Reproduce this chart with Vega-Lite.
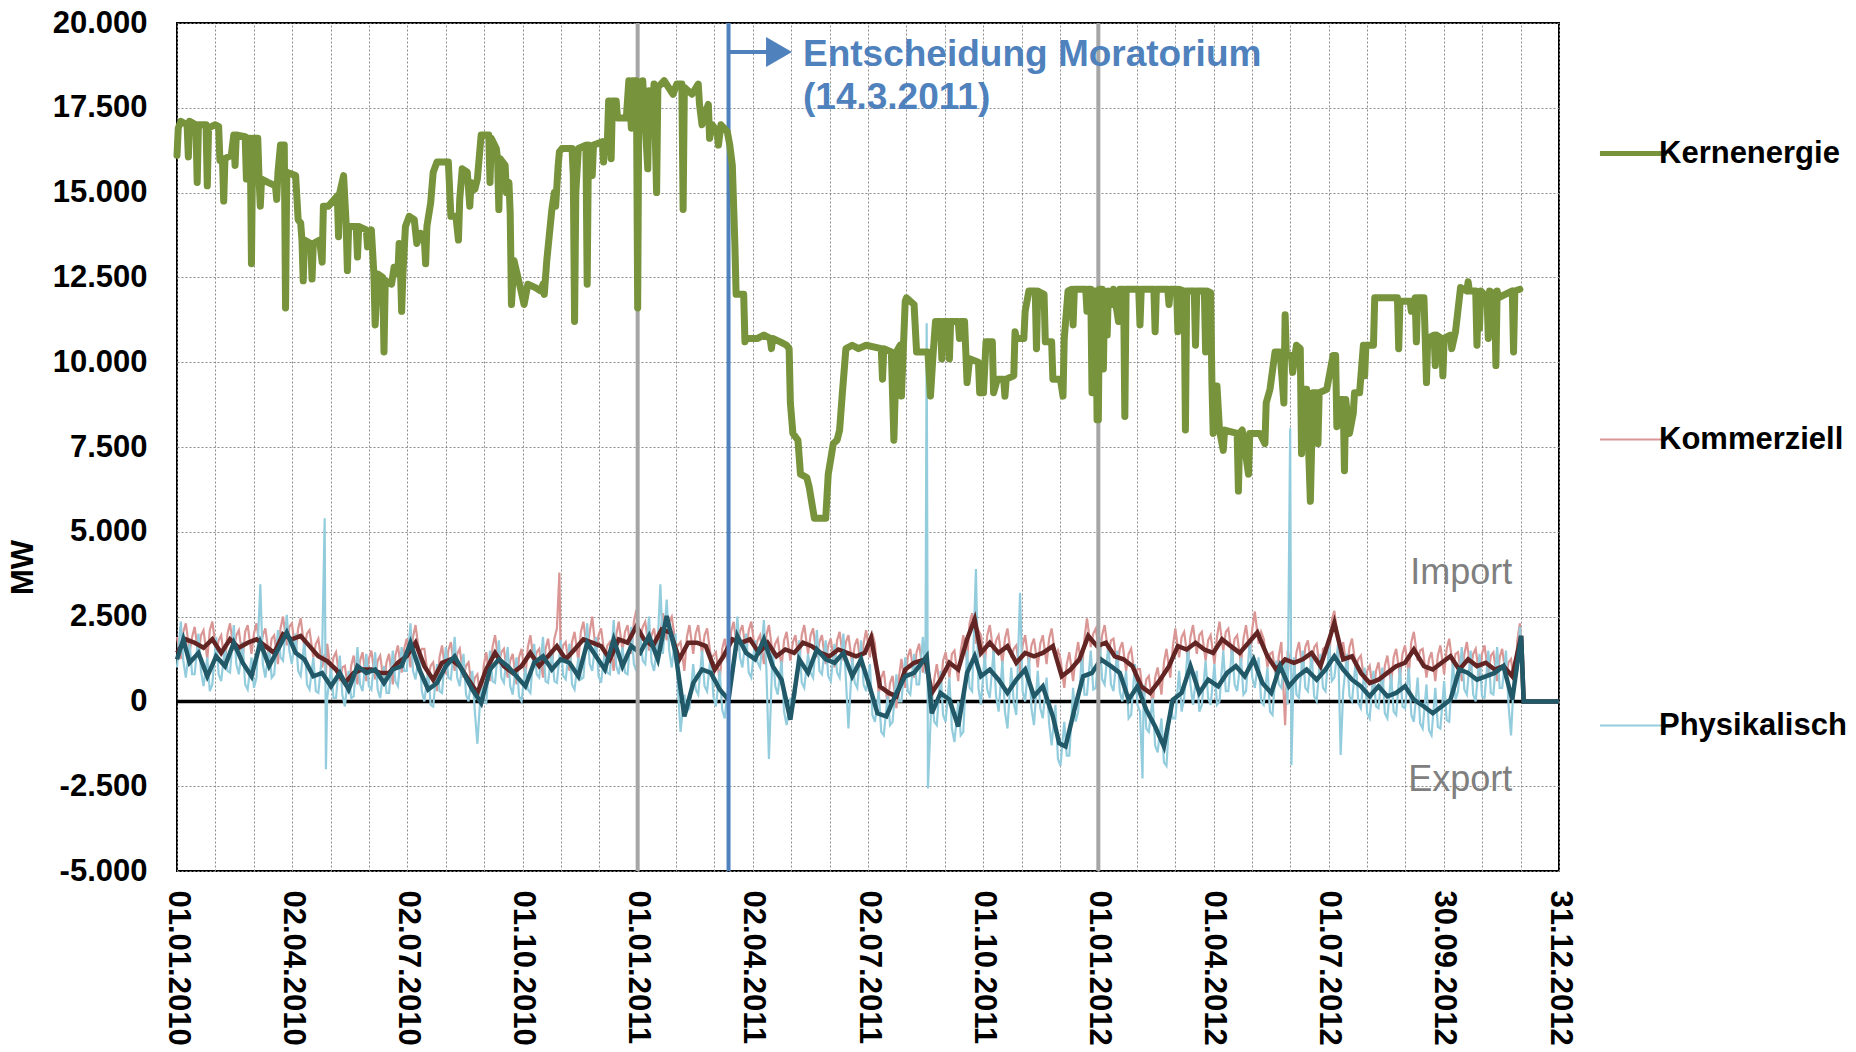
{
"$schema":"https://vega.github.io/schema/vega-lite/v6.json",
"autosize":{"type":"none"},
"width":1382,"height":848,
"padding":{"left":177,"top":23,"right":297,"bottom":181},
"background":"white",
"config":{"font":"Liberation Sans","view":{"stroke":"black","strokeWidth":2}},
"datasets":{
"kern":[
{"d":"2010-01-01","Kernenergie":16100},{"d":"2010-01-02","Kernenergie":16900},{"d":"2010-01-04","Kernenergie":17100},{"d":"2010-01-09","Kernenergie":17000},{"d":"2010-01-10","Kernenergie":16050},{"d":"2010-01-11","Kernenergie":17100},{"d":"2010-01-16","Kernenergie":17000},{"d":"2010-01-17","Kernenergie":15300},{"d":"2010-01-18","Kernenergie":17000},{"d":"2010-01-24","Kernenergie":17000},{"d":"2010-01-25","Kernenergie":15200},{"d":"2010-01-26","Kernenergie":16900},{"d":"2010-01-31","Kernenergie":17000},{"d":"2010-02-03","Kernenergie":16950},{"d":"2010-02-04","Kernenergie":15950},{"d":"2010-02-06","Kernenergie":16000},{"d":"2010-02-07","Kernenergie":14750},{"d":"2010-02-08","Kernenergie":16000},{"d":"2010-02-13","Kernenergie":16100},{"d":"2010-02-15","Kernenergie":16700},{"d":"2010-02-16","Kernenergie":15800},{"d":"2010-02-17","Kernenergie":16700},{"d":"2010-02-24","Kernenergie":16650},{"d":"2010-02-25","Kernenergie":15400},{"d":"2010-02-26","Kernenergie":16600},{"d":"2010-02-28","Kernenergie":16600},{"d":"2010-03-01","Kernenergie":12900},{"d":"2010-03-02","Kernenergie":16600},{"d":"2010-03-06","Kernenergie":16600},{"d":"2010-03-07","Kernenergie":15400},{"d":"2010-03-08","Kernenergie":14600},{"d":"2010-03-09","Kernenergie":15400},{"d":"2010-03-14","Kernenergie":15300},{"d":"2010-03-20","Kernenergie":15200},{"d":"2010-03-21","Kernenergie":14800},{"d":"2010-03-22","Kernenergie":15600},{"d":"2010-03-24","Kernenergie":16400},{"d":"2010-03-27","Kernenergie":16400},{"d":"2010-03-28","Kernenergie":11600},{"d":"2010-03-29","Kernenergie":15600},{"d":"2010-04-05","Kernenergie":15500},{"d":"2010-04-07","Kernenergie":14200},{"d":"2010-04-09","Kernenergie":14100},{"d":"2010-04-10","Kernenergie":13600},{"d":"2010-04-11","Kernenergie":12400},{"d":"2010-04-12","Kernenergie":13600},{"d":"2010-04-17","Kernenergie":13500},{"d":"2010-04-18","Kernenergie":12450},{"d":"2010-04-19","Kernenergie":13500},{"d":"2010-04-24","Kernenergie":13600},{"d":"2010-04-26","Kernenergie":12950},{"d":"2010-04-27","Kernenergie":14600},{"d":"2010-05-01","Kernenergie":14600},{"d":"2010-05-08","Kernenergie":14900},{"d":"2010-05-09","Kernenergie":13700},{"d":"2010-05-10","Kernenergie":15000},{"d":"2010-05-13","Kernenergie":15500},{"d":"2010-05-15","Kernenergie":14100},{"d":"2010-05-16","Kernenergie":12700},{"d":"2010-05-17","Kernenergie":14000},{"d":"2010-05-23","Kernenergie":14000},{"d":"2010-05-24","Kernenergie":13100},{"d":"2010-05-25","Kernenergie":14000},{"d":"2010-05-31","Kernenergie":13900},{"d":"2010-06-01","Kernenergie":13400},{"d":"2010-06-04","Kernenergie":13900},{"d":"2010-06-06","Kernenergie":12600},{"d":"2010-06-07","Kernenergie":11100},{"d":"2010-06-09","Kernenergie":12600},{"d":"2010-06-13","Kernenergie":12500},{"d":"2010-06-14","Kernenergie":10300},{"d":"2010-06-15","Kernenergie":12400},{"d":"2010-06-20","Kernenergie":12300},{"d":"2010-06-22","Kernenergie":12800},{"d":"2010-06-25","Kernenergie":12600},{"d":"2010-06-26","Kernenergie":13500},{"d":"2010-06-27","Kernenergie":12800},{"d":"2010-06-28","Kernenergie":11500},{"d":"2010-06-29","Kernenergie":12600},{"d":"2010-07-01","Kernenergie":14000},{"d":"2010-07-04","Kernenergie":14300},{"d":"2010-07-08","Kernenergie":14200},{"d":"2010-07-10","Kernenergie":13500},{"d":"2010-07-13","Kernenergie":13800},{"d":"2010-07-16","Kernenergie":13600},{"d":"2010-07-17","Kernenergie":12900},{"d":"2010-07-18","Kernenergie":14000},{"d":"2010-07-21","Kernenergie":14700},{"d":"2010-07-23","Kernenergie":15600},{"d":"2010-07-26","Kernenergie":15900},{"d":"2010-08-04","Kernenergie":15900},{"d":"2010-08-06","Kernenergie":14300},{"d":"2010-08-10","Kernenergie":14300},{"d":"2010-08-12","Kernenergie":13600},{"d":"2010-08-13","Kernenergie":14800},{"d":"2010-08-15","Kernenergie":15700},{"d":"2010-08-19","Kernenergie":15600},{"d":"2010-08-21","Kernenergie":14600},{"d":"2010-08-22","Kernenergie":15300},{"d":"2010-08-25","Kernenergie":15100},{"d":"2010-08-27","Kernenergie":15400},{"d":"2010-08-30","Kernenergie":16700},{"d":"2010-09-05","Kernenergie":16700},{"d":"2010-09-06","Kernenergie":15300},{"d":"2010-09-07","Kernenergie":16600},{"d":"2010-09-11","Kernenergie":16300},{"d":"2010-09-12","Kernenergie":16000},{"d":"2010-09-13","Kernenergie":14500},{"d":"2010-09-14","Kernenergie":16000},{"d":"2010-09-18","Kernenergie":15800},{"d":"2010-09-19","Kernenergie":15000},{"d":"2010-09-21","Kernenergie":15300},{"d":"2010-09-22","Kernenergie":14400},{"d":"2010-09-23","Kernenergie":11700},{"d":"2010-09-25","Kernenergie":13000},{"d":"2010-09-30","Kernenergie":12200},{"d":"2010-10-03","Kernenergie":11700},{"d":"2010-10-06","Kernenergie":12300},{"d":"2010-10-12","Kernenergie":12200},{"d":"2010-10-16","Kernenergie":12100},{"d":"2010-10-18","Kernenergie":12300},{"d":"2010-10-19","Kernenergie":12000},{"d":"2010-10-21","Kernenergie":13000},{"d":"2010-10-25","Kernenergie":14500},{"d":"2010-10-27","Kernenergie":15000},{"d":"2010-10-28","Kernenergie":14600},{"d":"2010-10-30","Kernenergie":15800},{"d":"2010-10-31","Kernenergie":16200},{"d":"2010-11-02","Kernenergie":16300},{"d":"2010-11-10","Kernenergie":16300},{"d":"2010-11-11","Kernenergie":15500},{"d":"2010-11-12","Kernenergie":11200},{"d":"2010-11-13","Kernenergie":15000},{"d":"2010-11-15","Kernenergie":16300},{"d":"2010-11-21","Kernenergie":16400},{"d":"2010-11-22","Kernenergie":12300},{"d":"2010-11-23","Kernenergie":16400},{"d":"2010-11-26","Kernenergie":15500},{"d":"2010-11-27","Kernenergie":16400},{"d":"2010-12-04","Kernenergie":16500},{"d":"2010-12-05","Kernenergie":15900},{"d":"2010-12-06","Kernenergie":16500},{"d":"2010-12-08","Kernenergie":16500},{"d":"2010-12-09","Kernenergie":17700},{"d":"2010-12-10","Kernenergie":17700},{"d":"2010-12-11","Kernenergie":16000},{"d":"2010-12-12","Kernenergie":17700},{"d":"2010-12-15","Kernenergie":17700},{"d":"2010-12-16","Kernenergie":17200},{"d":"2010-12-23","Kernenergie":17200},{"d":"2010-12-25","Kernenergie":18300},{"d":"2010-12-27","Kernenergie":16900},{"d":"2010-12-28","Kernenergie":18300},{"d":"2010-12-31","Kernenergie":18300},
{"d":"2011-01-01","Kernenergie":11600},{"d":"2011-01-02","Kernenergie":18200},{"d":"2011-01-04","Kernenergie":17000},{"d":"2011-01-05","Kernenergie":18300},{"d":"2011-01-09","Kernenergie":15700},{"d":"2011-01-10","Kernenergie":18000},{"d":"2011-01-12","Kernenergie":17000},{"d":"2011-01-14","Kernenergie":18200},{"d":"2011-01-16","Kernenergie":15000},{"d":"2011-01-17","Kernenergie":18100},{"d":"2011-01-22","Kernenergie":18300},{"d":"2011-01-29","Kernenergie":17900},{"d":"2011-02-01","Kernenergie":18200},{"d":"2011-02-05","Kernenergie":18200},{"d":"2011-02-06","Kernenergie":14500},{"d":"2011-02-07","Kernenergie":18100},{"d":"2011-02-13","Kernenergie":17900},{"d":"2011-02-18","Kernenergie":18200},{"d":"2011-02-19","Kernenergie":17600},{"d":"2011-02-21","Kernenergie":17000},{"d":"2011-02-23","Kernenergie":17300},{"d":"2011-02-26","Kernenergie":17600},{"d":"2011-02-27","Kernenergie":16600},{"d":"2011-03-01","Kernenergie":17000},{"d":"2011-03-05","Kernenergie":16800},{"d":"2011-03-06","Kernenergie":16400},{"d":"2011-03-08","Kernenergie":17000},{"d":"2011-03-13","Kernenergie":16800},{"d":"2011-03-15","Kernenergie":16400},{"d":"2011-03-17","Kernenergie":15800},{"d":"2011-03-19","Kernenergie":13500},{"d":"2011-03-20","Kernenergie":12000},{"d":"2011-03-26","Kernenergie":12000},{"d":"2011-03-27","Kernenergie":10600},{"d":"2011-03-28","Kernenergie":10700},{"d":"2011-04-06","Kernenergie":10700},{"d":"2011-04-11","Kernenergie":10800},{"d":"2011-04-16","Kernenergie":10700},{"d":"2011-04-17","Kernenergie":10400},{"d":"2011-04-18","Kernenergie":10700},{"d":"2011-04-24","Kernenergie":10600},{"d":"2011-04-29","Kernenergie":10500},{"d":"2011-05-01","Kernenergie":10400},{"d":"2011-05-02","Kernenergie":8800},{"d":"2011-05-04","Kernenergie":7900},{"d":"2011-05-08","Kernenergie":7700},{"d":"2011-05-10","Kernenergie":6700},{"d":"2011-05-15","Kernenergie":6600},{"d":"2011-05-17","Kernenergie":6300},{"d":"2011-05-21","Kernenergie":5400},{"d":"2011-05-30","Kernenergie":5400},{"d":"2011-06-01","Kernenergie":6700},{"d":"2011-06-05","Kernenergie":7600},{"d":"2011-06-08","Kernenergie":7700},{"d":"2011-06-10","Kernenergie":8000},{"d":"2011-06-12","Kernenergie":9000},{"d":"2011-06-15","Kernenergie":10400},{"d":"2011-06-20","Kernenergie":10500},{"d":"2011-06-25","Kernenergie":10400},{"d":"2011-07-01","Kernenergie":10500},{"d":"2011-07-13","Kernenergie":10400},{"d":"2011-07-14","Kernenergie":9500},{"d":"2011-07-15","Kernenergie":10400},{"d":"2011-07-21","Kernenergie":10300},{"d":"2011-07-23","Kernenergie":7700},{"d":"2011-07-25","Kernenergie":10300},{"d":"2011-07-28","Kernenergie":10500},{"d":"2011-07-29","Kernenergie":9000},{"d":"2011-08-01","Kernenergie":11800},{"d":"2011-08-02","Kernenergie":11900},{"d":"2011-08-08","Kernenergie":11700},{"d":"2011-08-10","Kernenergie":10300},{"d":"2011-08-19","Kernenergie":10300},{"d":"2011-08-21","Kernenergie":9000},{"d":"2011-08-23","Kernenergie":10200},{"d":"2011-08-25","Kernenergie":11200},{"d":"2011-08-29","Kernenergie":11200},{"d":"2011-08-30","Kernenergie":10100},{"d":"2011-08-31","Kernenergie":11200},{"d":"2011-09-04","Kernenergie":11200},{"d":"2011-09-05","Kernenergie":10100},{"d":"2011-09-06","Kernenergie":11200},{"d":"2011-09-12","Kernenergie":11200},{"d":"2011-09-13","Kernenergie":10700},{"d":"2011-09-14","Kernenergie":11200},{"d":"2011-09-17","Kernenergie":11200},{"d":"2011-09-19","Kernenergie":9400},{"d":"2011-09-21","Kernenergie":10100},{"d":"2011-09-28","Kernenergie":10000},{"d":"2011-09-29","Kernenergie":9100},{"d":"2011-10-02","Kernenergie":9100},{"d":"2011-10-04","Kernenergie":10600},{"d":"2011-10-09","Kernenergie":10600},{"d":"2011-10-10","Kernenergie":9100},{"d":"2011-10-13","Kernenergie":9500},{"d":"2011-10-18","Kernenergie":9500},{"d":"2011-10-19","Kernenergie":9000},{"d":"2011-10-20","Kernenergie":9500},{"d":"2011-10-26","Kernenergie":9600},{"d":"2011-10-27","Kernenergie":10900},{"d":"2011-10-28","Kernenergie":10700},{"d":"2011-11-03","Kernenergie":10700},{"d":"2011-11-04","Kernenergie":11500},{"d":"2011-11-07","Kernenergie":12100},{"d":"2011-11-12","Kernenergie":12100},{"d":"2011-11-13","Kernenergie":10400},{"d":"2011-11-14","Kernenergie":12100},{"d":"2011-11-19","Kernenergie":12000},{"d":"2011-11-20","Kernenergie":10600},{"d":"2011-11-25","Kernenergie":10600},{"d":"2011-11-26","Kernenergie":9500},{"d":"2011-12-02","Kernenergie":9500},{"d":"2011-12-04","Kernenergie":9000},{"d":"2011-12-05","Kernenergie":10700},{"d":"2011-12-08","Kernenergie":12100},{"d":"2011-12-11","Kernenergie":12150},{"d":"2011-12-12","Kernenergie":11100},{"d":"2011-12-13","Kernenergie":12150},{"d":"2011-12-22","Kernenergie":12150},{"d":"2011-12-23","Kernenergie":11500},{"d":"2011-12-24","Kernenergie":12150},{"d":"2011-12-26","Kernenergie":12150},{"d":"2011-12-27","Kernenergie":9100},{"d":"2011-12-28","Kernenergie":12100},{"d":"2011-12-30","Kernenergie":12100},{"d":"2011-12-31","Kernenergie":8300},
{"d":"2012-01-01","Kernenergie":8300},{"d":"2012-01-02","Kernenergie":12150},{"d":"2012-01-04","Kernenergie":12150},{"d":"2012-01-05","Kernenergie":9800},{"d":"2012-01-06","Kernenergie":12100},{"d":"2012-01-08","Kernenergie":10800},{"d":"2012-01-09","Kernenergie":12100},{"d":"2012-01-12","Kernenergie":11700},{"d":"2012-01-13","Kernenergie":12150},{"d":"2012-01-17","Kernenergie":11200},{"d":"2012-01-18","Kernenergie":12150},{"d":"2012-01-21","Kernenergie":12150},{"d":"2012-01-22","Kernenergie":8400},{"d":"2012-01-23","Kernenergie":12150},{"d":"2012-02-02","Kernenergie":12150},{"d":"2012-02-03","Kernenergie":11100},{"d":"2012-02-04","Kernenergie":12150},{"d":"2012-02-14","Kernenergie":12150},{"d":"2012-02-15","Kernenergie":10900},{"d":"2012-02-16","Kernenergie":12150},{"d":"2012-02-25","Kernenergie":12150},{"d":"2012-02-26","Kernenergie":11700},{"d":"2012-02-27","Kernenergie":12150},{"d":"2012-03-03","Kernenergie":12150},{"d":"2012-03-04","Kernenergie":10900},{"d":"2012-03-05","Kernenergie":12150},{"d":"2012-03-09","Kernenergie":12100},{"d":"2012-03-10","Kernenergie":8000},{"d":"2012-03-11","Kernenergie":12100},{"d":"2012-03-17","Kernenergie":12100},{"d":"2012-03-18","Kernenergie":10500},{"d":"2012-03-19","Kernenergie":12100},{"d":"2012-03-25","Kernenergie":12100},{"d":"2012-03-26","Kernenergie":10300},{"d":"2012-03-27","Kernenergie":12100},{"d":"2012-03-30","Kernenergie":12050},{"d":"2012-03-31","Kernenergie":9400},{"d":"2012-04-01","Kernenergie":7900},{"d":"2012-04-03","Kernenergie":9300},{"d":"2012-04-04","Kernenergie":9300},{"d":"2012-04-06","Kernenergie":8000},{"d":"2012-04-09","Kernenergie":7400},{"d":"2012-04-10","Kernenergie":8000},{"d":"2012-04-20","Kernenergie":7900},{"d":"2012-04-21","Kernenergie":6200},{"d":"2012-04-22","Kernenergie":7900},{"d":"2012-04-24","Kernenergie":8000},{"d":"2012-04-29","Kernenergie":6700},{"d":"2012-04-30","Kernenergie":7900},{"d":"2012-05-08","Kernenergie":7900},{"d":"2012-05-12","Kernenergie":7600},{"d":"2012-05-13","Kernenergie":8800},{"d":"2012-05-16","Kernenergie":9200},{"d":"2012-05-20","Kernenergie":10300},{"d":"2012-05-24","Kernenergie":10300},{"d":"2012-05-27","Kernenergie":8800},{"d":"2012-05-28","Kernenergie":11400},{"d":"2012-05-29","Kernenergie":10200},{"d":"2012-06-02","Kernenergie":10200},{"d":"2012-06-03","Kernenergie":9700},{"d":"2012-06-06","Kernenergie":10500},{"d":"2012-06-09","Kernenergie":10400},{"d":"2012-06-10","Kernenergie":7300},{"d":"2012-06-11","Kernenergie":9200},{"d":"2012-06-14","Kernenergie":9200},{"d":"2012-06-17","Kernenergie":5900},{"d":"2012-06-19","Kernenergie":9100},{"d":"2012-06-22","Kernenergie":9100},{"d":"2012-06-23","Kernenergie":7600},{"d":"2012-06-24","Kernenergie":9100},{"d":"2012-06-30","Kernenergie":9200},{"d":"2012-07-05","Kernenergie":10200},{"d":"2012-07-07","Kernenergie":10200},{"d":"2012-07-08","Kernenergie":8100},{"d":"2012-07-09","Kernenergie":8900},{"d":"2012-07-13","Kernenergie":8900},{"d":"2012-07-14","Kernenergie":6800},{"d":"2012-07-15","Kernenergie":8900},{"d":"2012-07-18","Kernenergie":7900},{"d":"2012-07-21","Kernenergie":8500},{"d":"2012-07-22","Kernenergie":9100},{"d":"2012-07-26","Kernenergie":9100},{"d":"2012-07-29","Kernenergie":10500},{"d":"2012-07-30","Kernenergie":9600},{"d":"2012-07-31","Kernenergie":10500},{"d":"2012-08-06","Kernenergie":10500},{"d":"2012-08-07","Kernenergie":11900},{"d":"2012-08-25","Kernenergie":11900},{"d":"2012-08-26","Kernenergie":10400},{"d":"2012-08-27","Kernenergie":11800},{"d":"2012-09-04","Kernenergie":11800},{"d":"2012-09-05","Kernenergie":11500},{"d":"2012-09-08","Kernenergie":11900},{"d":"2012-09-09","Kernenergie":10600},{"d":"2012-09-10","Kernenergie":11900},{"d":"2012-09-15","Kernenergie":11900},{"d":"2012-09-16","Kernenergie":10700},{"d":"2012-09-17","Kernenergie":9400},{"d":"2012-09-18","Kernenergie":10700},{"d":"2012-09-23","Kernenergie":10800},{"d":"2012-09-24","Kernenergie":9900},{"d":"2012-09-25","Kernenergie":10800},{"d":"2012-09-29","Kernenergie":10700},{"d":"2012-09-30","Kernenergie":9600},{"d":"2012-10-01","Kernenergie":10700},{"d":"2012-10-06","Kernenergie":10800},{"d":"2012-10-07","Kernenergie":10400},{"d":"2012-10-10","Kernenergie":10900},{"d":"2012-10-14","Kernenergie":12200},{"d":"2012-10-19","Kernenergie":12100},{"d":"2012-10-20","Kernenergie":12370},{"d":"2012-10-21","Kernenergie":12100},{"d":"2012-10-26","Kernenergie":12100},{"d":"2012-10-27","Kernenergie":10500},{"d":"2012-10-28","Kernenergie":12000},{"d":"2012-10-29","Kernenergie":11000},{"d":"2012-10-30","Kernenergie":12100},{"d":"2012-11-04","Kernenergie":11900},{"d":"2012-11-05","Kernenergie":10700},{"d":"2012-11-06","Kernenergie":12100},{"d":"2012-11-10","Kernenergie":12000},{"d":"2012-11-11","Kernenergie":9900},{"d":"2012-11-12","Kernenergie":12100},{"d":"2012-11-13","Kernenergie":11900},{"d":"2012-11-24","Kernenergie":12100},{"d":"2012-11-25","Kernenergie":10300},{"d":"2012-11-26","Kernenergie":12100},{"d":"2012-11-30","Kernenergie":12150}],
"ex":[
{"d":"2010-01-01","Kommerziell":1900,"Physikalisch":1000},{"d":"2010-01-04","Kommerziell":1250,"Physikalisch":2350},{"d":"2010-01-08","Kommerziell":2300,"Physikalisch":700},{"d":"2010-01-11","Kommerziell":1450,"Physikalisch":1700},{"d":"2010-01-15","Kommerziell":2200,"Physikalisch":800},{"d":"2010-01-18","Kommerziell":1350,"Physikalisch":2000},{"d":"2010-01-22","Kommerziell":2100,"Physikalisch":450},{"d":"2010-01-25","Kommerziell":1250,"Physikalisch":1300},{"d":"2010-01-29","Kommerziell":2350,"Physikalisch":500},{"d":"2010-02-01","Kommerziell":1500,"Physikalisch":1900},{"d":"2010-02-05","Kommerziell":1950,"Physikalisch":600},{"d":"2010-02-08","Kommerziell":1100,"Physikalisch":1600},{"d":"2010-02-12","Kommerziell":2300,"Physikalisch":850},{"d":"2010-02-15","Kommerziell":1500,"Physikalisch":2250},{"d":"2010-02-19","Kommerziell":2100,"Physikalisch":800},{"d":"2010-02-22","Kommerziell":1250,"Physikalisch":1750},{"d":"2010-02-26","Kommerziell":2250,"Physikalisch":350},{"d":"2010-03-01","Kommerziell":1400,"Physikalisch":1300},{"d":"2010-03-05","Kommerziell":2300,"Physikalisch":700},{"d":"2010-03-08","Kommerziell":1500,"Physikalisch":3450},{"d":"2010-03-12","Kommerziell":2150,"Physikalisch":700},{"d":"2010-03-15","Kommerziell":1300,"Physikalisch":1600},{"d":"2010-03-19","Kommerziell":1950,"Physikalisch":800},{"d":"2010-03-22","Kommerziell":1100,"Physikalisch":2100},{"d":"2010-03-26","Kommerziell":2500,"Physikalisch":1200},{"d":"2010-03-29","Kommerziell":1650,"Physikalisch":2550},{"d":"2010-04-02","Kommerziell":2300,"Physikalisch":1100},{"d":"2010-04-05","Kommerziell":1450,"Physikalisch":2000},{"d":"2010-04-09","Kommerziell":2450,"Physikalisch":750},{"d":"2010-04-12","Kommerziell":1550,"Physikalisch":1800},{"d":"2010-04-16","Kommerziell":2100,"Physikalisch":350},{"d":"2010-04-19","Kommerziell":1300,"Physikalisch":1300},{"d":"2010-04-23","Kommerziell":1850,"Physikalisch":250},{"d":"2010-04-26","Kommerziell":1000,"Physikalisch":1400},{"d":"2010-04-28","Kommerziell":1400,"Physikalisch":5400},{"d":"2010-04-29","Kommerziell":800,"Physikalisch":-2000},{"d":"2010-04-30","Kommerziell":1700,"Physikalisch":100},{"d":"2010-05-03","Kommerziell":850,"Physikalisch":1000},{"d":"2010-05-07","Kommerziell":1450,"Physikalisch":100},{"d":"2010-05-10","Kommerziell":600,"Physikalisch":1350},{"d":"2010-05-14","Kommerziell":1050,"Physikalisch":-150},{"d":"2010-05-17","Kommerziell":250,"Physikalisch":900},{"d":"2010-05-21","Kommerziell":1350,"Physikalisch":150},{"d":"2010-05-24","Kommerziell":500,"Physikalisch":1600},{"d":"2010-05-28","Kommerziell":1450,"Physikalisch":300},{"d":"2010-05-31","Kommerziell":600,"Physikalisch":1400},{"d":"2010-06-04","Kommerziell":1500,"Physikalisch":350},{"d":"2010-06-07","Kommerziell":650,"Physikalisch":1450},{"d":"2010-06-11","Kommerziell":1350,"Physikalisch":100},{"d":"2010-06-14","Kommerziell":500,"Physikalisch":1050},{"d":"2010-06-18","Kommerziell":1400,"Physikalisch":250},{"d":"2010-06-21","Kommerziell":500,"Physikalisch":1500},{"d":"2010-06-25","Kommerziell":1650,"Physikalisch":450},{"d":"2010-06-28","Kommerziell":850,"Physikalisch":1600},{"d":"2010-07-02","Kommerziell":1850,"Physikalisch":900},{"d":"2010-07-05","Kommerziell":1000,"Physikalisch":2300},{"d":"2010-07-09","Kommerziell":2250,"Physikalisch":650},{"d":"2010-07-12","Kommerziell":1400,"Physikalisch":1500},{"d":"2010-07-16","Kommerziell":1550,"Physikalisch":0},{"d":"2010-07-19","Kommerziell":700,"Physikalisch":900},{"d":"2010-07-23","Kommerziell":1150,"Physikalisch":-150},{"d":"2010-07-26","Kommerziell":300,"Physikalisch":1100},{"d":"2010-07-30","Kommerziell":1650,"Physikalisch":250},{"d":"2010-08-02","Kommerziell":800,"Physikalisch":1600},{"d":"2010-08-06","Kommerziell":1750,"Physikalisch":650},{"d":"2010-08-09","Kommerziell":900,"Physikalisch":1900},{"d":"2010-08-13","Kommerziell":1550,"Physikalisch":450},{"d":"2010-08-16","Kommerziell":700,"Physikalisch":1400},{"d":"2010-08-20","Kommerziell":1150,"Physikalisch":0},{"d":"2010-08-23","Kommerziell":300,"Physikalisch":900},{"d":"2010-08-27","Kommerziell":800,"Physikalisch":-1250},{"d":"2010-08-30","Kommerziell":-100,"Physikalisch":500},{"d":"2010-09-03","Kommerziell":1450,"Physikalisch":-50},{"d":"2010-09-06","Kommerziell":600,"Physikalisch":1500},{"d":"2010-09-10","Kommerziell":1950,"Physikalisch":550},{"d":"2010-09-13","Kommerziell":1100,"Physikalisch":1800},{"d":"2010-09-17","Kommerziell":1550,"Physikalisch":550},{"d":"2010-09-20","Kommerziell":700,"Physikalisch":1600},{"d":"2010-09-24","Kommerziell":1400,"Physikalisch":200},{"d":"2010-09-27","Kommerziell":500,"Physikalisch":1300},{"d":"2010-10-01","Kommerziell":1550,"Physikalisch":0},{"d":"2010-10-04","Kommerziell":700,"Physikalisch":1000},{"d":"2010-10-08","Kommerziell":1950,"Physikalisch":250},{"d":"2010-10-11","Kommerziell":1100,"Physikalisch":1700},{"d":"2010-10-15","Kommerziell":1550,"Physikalisch":700},{"d":"2010-10-18","Kommerziell":700,"Physikalisch":1900},{"d":"2010-10-22","Kommerziell":1850,"Physikalisch":550},{"d":"2010-10-25","Kommerziell":1000,"Physikalisch":1500},{"d":"2010-10-29","Kommerziell":2150,"Physikalisch":550},{"d":"2010-10-31","Kommerziell":3800,"Physikalisch":1300},{"d":"2010-11-01","Kommerziell":1300,"Physikalisch":1800},{"d":"2010-11-05","Kommerziell":1750,"Physikalisch":650},{"d":"2010-11-08","Kommerziell":900,"Physikalisch":1700},{"d":"2010-11-12","Kommerziell":2050,"Physikalisch":350},{"d":"2010-11-15","Kommerziell":1200,"Physikalisch":1300},{"d":"2010-11-19","Kommerziell":2350,"Physikalisch":700},{"d":"2010-11-22","Kommerziell":1500,"Physikalisch":2300},{"d":"2010-11-26","Kommerziell":2500,"Physikalisch":900},{"d":"2010-11-29","Kommerziell":1400,"Physikalisch":1900},{"d":"2010-12-03","Kommerziell":2150,"Physikalisch":550},{"d":"2010-12-06","Kommerziell":1300,"Physikalisch":1500},{"d":"2010-12-10","Kommerziell":1750,"Physikalisch":800},{"d":"2010-12-13","Kommerziell":900,"Physikalisch":2400},{"d":"2010-12-17","Kommerziell":2350,"Physikalisch":800},{"d":"2010-12-20","Kommerziell":1500,"Physikalisch":1600},{"d":"2010-12-24","Kommerziell":2250,"Physikalisch":800},{"d":"2010-12-27","Kommerziell":1400,"Physikalisch":2200},{"d":"2010-12-31","Kommerziell":2700,"Physikalisch":900},
{"d":"2011-01-03","Kommerziell":1850,"Physikalisch":2000},{"d":"2011-01-07","Kommerziell":2350,"Physikalisch":1100},{"d":"2011-01-10","Kommerziell":1500,"Physikalisch":2500},{"d":"2011-01-14","Kommerziell":2150,"Physikalisch":900},{"d":"2011-01-17","Kommerziell":1300,"Physikalisch":1800},{"d":"2011-01-19","Kommerziell":2000,"Physikalisch":3450},{"d":"2011-01-21","Kommerziell":2600,"Physikalisch":1400},{"d":"2011-01-24","Kommerziell":1800,"Physikalisch":3000},{"d":"2011-01-28","Kommerziell":2500,"Physikalisch":1000},{"d":"2011-01-31","Kommerziell":1700,"Physikalisch":2000},{"d":"2011-02-04","Kommerziell":1750,"Physikalisch":-900},{"d":"2011-02-07","Kommerziell":900,"Physikalisch":200},{"d":"2011-02-11","Kommerziell":2250,"Physikalisch":-200},{"d":"2011-02-14","Kommerziell":1400,"Physikalisch":1100},{"d":"2011-02-18","Kommerziell":2250,"Physikalisch":200},{"d":"2011-02-21","Kommerziell":1400,"Physikalisch":1500},{"d":"2011-02-25","Kommerziell":2150,"Physikalisch":300},{"d":"2011-02-28","Kommerziell":1300,"Physikalisch":1400},{"d":"2011-03-04","Kommerziell":1450,"Physikalisch":-150},{"d":"2011-03-07","Kommerziell":600,"Physikalisch":900},{"d":"2011-03-11","Kommerziell":1850,"Physikalisch":-500},{"d":"2011-03-14","Kommerziell":1000,"Physikalisch":600},{"d":"2011-03-18","Kommerziell":2350,"Physikalisch":900},{"d":"2011-03-21","Kommerziell":1500,"Physikalisch":2500},{"d":"2011-03-25","Kommerziell":2250,"Physikalisch":1000},{"d":"2011-03-28","Kommerziell":1400,"Physikalisch":2000},{"d":"2011-04-01","Kommerziell":2350,"Physikalisch":700},{"d":"2011-04-04","Kommerziell":1500,"Physikalisch":1800},{"d":"2011-04-08","Kommerziell":1950,"Physikalisch":1000},{"d":"2011-04-11","Kommerziell":1100,"Physikalisch":2400},{"d":"2011-04-15","Kommerziell":2250,"Physikalisch":-1700},{"d":"2011-04-18","Kommerziell":1400,"Physikalisch":1600},{"d":"2011-04-22","Kommerziell":1850,"Physikalisch":200},{"d":"2011-04-25","Kommerziell":1000,"Physikalisch":1200},{"d":"2011-04-29","Kommerziell":2050,"Physikalisch":-700},{"d":"2011-05-02","Kommerziell":1200,"Physikalisch":100},{"d":"2011-05-06","Kommerziell":1950,"Physikalisch":200},{"d":"2011-05-09","Kommerziell":1100,"Physikalisch":1800},{"d":"2011-05-13","Kommerziell":2250,"Physikalisch":400},{"d":"2011-05-16","Kommerziell":1400,"Physikalisch":1400},{"d":"2011-05-20","Kommerziell":2150,"Physikalisch":700},{"d":"2011-05-23","Kommerziell":1300,"Physikalisch":2100},{"d":"2011-05-27","Kommerziell":1950,"Physikalisch":800},{"d":"2011-05-30","Kommerziell":1100,"Physikalisch":1800},{"d":"2011-06-03","Kommerziell":1850,"Physikalisch":600},{"d":"2011-06-06","Kommerziell":1000,"Physikalisch":1700},{"d":"2011-06-10","Kommerziell":2050,"Physikalisch":700},{"d":"2011-06-13","Kommerziell":1200,"Physikalisch":2000},{"d":"2011-06-17","Kommerziell":1950,"Physikalisch":-800},{"d":"2011-06-20","Kommerziell":1100,"Physikalisch":1300},{"d":"2011-06-24","Kommerziell":1850,"Physikalisch":400},{"d":"2011-06-27","Kommerziell":1000,"Physikalisch":1800},{"d":"2011-07-01","Kommerziell":2100,"Physikalisch":300},{"d":"2011-07-04","Kommerziell":1300,"Physikalisch":1100},{"d":"2011-07-08","Kommerziell":1700,"Physikalisch":-600},{"d":"2011-07-11","Kommerziell":200,"Physikalisch":300},{"d":"2011-07-15","Kommerziell":900,"Physikalisch":-1000},{"d":"2011-07-18","Kommerziell":-100,"Physikalisch":150},{"d":"2011-07-22","Kommerziell":750,"Physikalisch":-600},{"d":"2011-07-25","Kommerziell":-200,"Physikalisch":800},{"d":"2011-07-29","Kommerziell":1250,"Physikalisch":0},{"d":"2011-08-01","Kommerziell":400,"Physikalisch":1300},{"d":"2011-08-05","Kommerziell":1550,"Physikalisch":200},{"d":"2011-08-08","Kommerziell":700,"Physikalisch":1400},{"d":"2011-08-12","Kommerziell":1700,"Physikalisch":500},{"d":"2011-08-15","Kommerziell":850,"Physikalisch":1900},{"d":"2011-08-18","Kommerziell":1200,"Physikalisch":11150},{"d":"2011-08-19","Kommerziell":700,"Physikalisch":-2570},{"d":"2011-08-22","Kommerziell":0,"Physikalisch":300},{"d":"2011-08-26","Kommerziell":1100,"Physikalisch":-700},{"d":"2011-08-29","Kommerziell":300,"Physikalisch":900},{"d":"2011-09-02","Kommerziell":1450,"Physikalisch":-600},{"d":"2011-09-05","Kommerziell":700,"Physikalisch":700},{"d":"2011-09-09","Kommerziell":1500,"Physikalisch":-1200},{"d":"2011-09-12","Kommerziell":600,"Physikalisch":0},{"d":"2011-09-16","Kommerziell":1950,"Physikalisch":-900},{"d":"2011-09-19","Kommerziell":1200,"Physikalisch":1500},{"d":"2011-09-23","Kommerziell":2600,"Physikalisch":300},{"d":"2011-09-26","Kommerziell":1700,"Physikalisch":3900},{"d":"2011-09-30","Kommerziell":1950,"Physikalisch":-100},{"d":"2011-10-03","Kommerziell":1100,"Physikalisch":1400},{"d":"2011-10-07","Kommerziell":2250,"Physikalisch":100},{"d":"2011-10-10","Kommerziell":1400,"Physikalisch":1500},{"d":"2011-10-14","Kommerziell":1950,"Physikalisch":-300},{"d":"2011-10-17","Kommerziell":1100,"Physikalisch":1200},{"d":"2011-10-21","Kommerziell":2150,"Physikalisch":-800},{"d":"2011-10-24","Kommerziell":1300,"Physikalisch":1000},{"d":"2011-10-28","Kommerziell":1650,"Physikalisch":-400},{"d":"2011-10-31","Kommerziell":800,"Physikalisch":3200},{"d":"2011-11-04","Kommerziell":1950,"Physikalisch":0},{"d":"2011-11-07","Kommerziell":1100,"Physikalisch":1300},{"d":"2011-11-11","Kommerziell":1850,"Physikalisch":-700},{"d":"2011-11-14","Kommerziell":1000,"Physikalisch":900},{"d":"2011-11-18","Kommerziell":1950,"Physikalisch":-500},{"d":"2011-11-21","Kommerziell":1100,"Physikalisch":700},{"d":"2011-11-25","Kommerziell":2150,"Physikalisch":-1300},{"d":"2011-11-28","Kommerziell":1300,"Physikalisch":-100},{"d":"2011-12-02","Kommerziell":1250,"Physikalisch":-1900},{"d":"2011-12-05","Kommerziell":400,"Physikalisch":-600},{"d":"2011-12-09","Kommerziell":1450,"Physikalisch":-1600},{"d":"2011-12-12","Kommerziell":600,"Physikalisch":400},{"d":"2011-12-16","Kommerziell":1750,"Physikalisch":-300},{"d":"2011-12-19","Kommerziell":900,"Physikalisch":1400},{"d":"2011-12-23","Kommerziell":2450,"Physikalisch":200},{"d":"2011-12-26","Kommerziell":1600,"Physikalisch":1500},{"d":"2011-12-30","Kommerziell":2150,"Physikalisch":400},
{"d":"2012-01-02","Kommerziell":1300,"Physikalisch":1900},{"d":"2012-01-06","Kommerziell":2250,"Physikalisch":500},{"d":"2012-01-09","Kommerziell":1400,"Physikalisch":1700},{"d":"2012-01-13","Kommerziell":1850,"Physikalisch":300},{"d":"2012-01-16","Kommerziell":1000,"Physikalisch":1500},{"d":"2012-01-20","Kommerziell":1750,"Physikalisch":0},{"d":"2012-01-23","Kommerziell":900,"Physikalisch":900},{"d":"2012-01-27","Kommerziell":1550,"Physikalisch":-400},{"d":"2012-01-30","Kommerziell":700,"Physikalisch":1100},{"d":"2012-02-03","Kommerziell":950,"Physikalisch":-300},{"d":"2012-02-05","Kommerziell":300,"Physikalisch":-2270},{"d":"2012-02-06","Kommerziell":100,"Physikalisch":500},{"d":"2012-02-10","Kommerziell":750,"Physikalisch":-900},{"d":"2012-02-13","Kommerziell":-100,"Physikalisch":100},{"d":"2012-02-17","Kommerziell":1000,"Physikalisch":-1500},{"d":"2012-02-20","Kommerziell":200,"Physikalisch":-500},{"d":"2012-02-24","Kommerziell":1550,"Physikalisch":-1900},{"d":"2012-02-27","Kommerziell":700,"Physikalisch":0},{"d":"2012-03-02","Kommerziell":2150,"Physikalisch":-500},{"d":"2012-03-05","Kommerziell":1300,"Physikalisch":900},{"d":"2012-03-09","Kommerziell":2050,"Physikalisch":100},{"d":"2012-03-12","Kommerziell":1200,"Physikalisch":1600},{"d":"2012-03-16","Kommerziell":2250,"Physikalisch":-100},{"d":"2012-03-19","Kommerziell":1400,"Physikalisch":900},{"d":"2012-03-23","Kommerziell":2050,"Physikalisch":-100},{"d":"2012-03-26","Kommerziell":1200,"Physikalisch":1200},{"d":"2012-03-30","Kommerziell":1950,"Physikalisch":-100},{"d":"2012-04-02","Kommerziell":1100,"Physikalisch":1100},{"d":"2012-04-06","Kommerziell":2350,"Physikalisch":0},{"d":"2012-04-09","Kommerziell":1500,"Physikalisch":1500},{"d":"2012-04-13","Kommerziell":2150,"Physikalisch":300},{"d":"2012-04-16","Kommerziell":1300,"Physikalisch":1600},{"d":"2012-04-20","Kommerziell":1950,"Physikalisch":300},{"d":"2012-04-23","Kommerziell":1100,"Physikalisch":1300},{"d":"2012-04-27","Kommerziell":2250,"Physikalisch":300},{"d":"2012-04-30","Kommerziell":1400,"Physikalisch":1800},{"d":"2012-05-04","Kommerziell":2650,"Physikalisch":400},{"d":"2012-05-07","Kommerziell":1700,"Physikalisch":1300},{"d":"2012-05-11","Kommerziell":1850,"Physikalisch":-100},{"d":"2012-05-14","Kommerziell":1000,"Physikalisch":1000},{"d":"2012-05-18","Kommerziell":1450,"Physikalisch":-400},{"d":"2012-05-21","Kommerziell":600,"Physikalisch":1200},{"d":"2012-05-25","Kommerziell":1750,"Physikalisch":400},{"d":"2012-05-28","Kommerziell":-700,"Physikalisch":1300},{"d":"2012-06-01","Kommerziell":1200,"Physikalisch":8050},{"d":"2012-06-02","Kommerziell":700,"Physikalisch":-1880},{"d":"2012-06-04","Kommerziell":800,"Physikalisch":1300},{"d":"2012-06-08","Kommerziell":1750,"Physikalisch":100},{"d":"2012-06-11","Kommerziell":900,"Physikalisch":1500},{"d":"2012-06-15","Kommerziell":1800,"Physikalisch":300},{"d":"2012-06-18","Kommerziell":1000,"Physikalisch":1400},{"d":"2012-06-22","Kommerziell":1700,"Physikalisch":0},{"d":"2012-06-25","Kommerziell":800,"Physikalisch":1400},{"d":"2012-06-29","Kommerziell":1600,"Physikalisch":300},{"d":"2012-07-02","Kommerziell":1300,"Physikalisch":1700},{"d":"2012-07-06","Kommerziell":2670,"Physikalisch":700},{"d":"2012-07-09","Kommerziell":1800,"Physikalisch":1700},{"d":"2012-07-11","Kommerziell":1300,"Physikalisch":-1580},{"d":"2012-07-13","Kommerziell":1750,"Physikalisch":300},{"d":"2012-07-16","Kommerziell":900,"Physikalisch":1400},{"d":"2012-07-20","Kommerziell":1850,"Physikalisch":0},{"d":"2012-07-23","Kommerziell":1000,"Physikalisch":1200},{"d":"2012-07-27","Kommerziell":1350,"Physikalisch":-200},{"d":"2012-07-30","Kommerziell":500,"Physikalisch":1000},{"d":"2012-08-03","Kommerziell":1050,"Physikalisch":-500},{"d":"2012-08-06","Kommerziell":200,"Physikalisch":900},{"d":"2012-08-10","Kommerziell":1150,"Physikalisch":-200},{"d":"2012-08-13","Kommerziell":300,"Physikalisch":1000},{"d":"2012-08-17","Kommerziell":1350,"Physikalisch":-500},{"d":"2012-08-20","Kommerziell":500,"Physikalisch":800},{"d":"2012-08-24","Kommerziell":1550,"Physikalisch":-400},{"d":"2012-08-27","Kommerziell":700,"Physikalisch":1000},{"d":"2012-08-31","Kommerziell":1650,"Physikalisch":-200},{"d":"2012-09-03","Kommerziell":800,"Physikalisch":1000},{"d":"2012-09-07","Kommerziell":2050,"Physikalisch":-600},{"d":"2012-09-10","Kommerziell":1200,"Physikalisch":700},{"d":"2012-09-14","Kommerziell":1550,"Physikalisch":-800},{"d":"2012-09-17","Kommerziell":700,"Physikalisch":500},{"d":"2012-09-21","Kommerziell":1450,"Physikalisch":-1000},{"d":"2012-09-24","Kommerziell":600,"Physikalisch":400},{"d":"2012-09-28","Kommerziell":1650,"Physikalisch":-800},{"d":"2012-10-01","Kommerziell":800,"Physikalisch":600},{"d":"2012-10-05","Kommerziell":1850,"Physikalisch":-600},{"d":"2012-10-08","Kommerziell":1000,"Physikalisch":1200},{"d":"2012-10-12","Kommerziell":1450,"Physikalisch":300},{"d":"2012-10-15","Kommerziell":600,"Physikalisch":1600},{"d":"2012-10-19","Kommerziell":1750,"Physikalisch":200},{"d":"2012-10-22","Kommerziell":900,"Physikalisch":1500},{"d":"2012-10-26","Kommerziell":1550,"Physikalisch":0},{"d":"2012-10-29","Kommerziell":700,"Physikalisch":1400},{"d":"2012-11-02","Kommerziell":1650,"Physikalisch":100},{"d":"2012-11-05","Kommerziell":800,"Physikalisch":1500},{"d":"2012-11-09","Kommerziell":1450,"Physikalisch":200},{"d":"2012-11-12","Kommerziell":600,"Physikalisch":1600},{"d":"2012-11-16","Kommerziell":1550,"Physikalisch":400},{"d":"2012-11-19","Kommerziell":700,"Physikalisch":1500},{"d":"2012-11-23","Kommerziell":1250,"Physikalisch":-1000},{"d":"2012-11-26","Kommerziell":400,"Physikalisch":1200},{"d":"2012-11-30","Kommerziell":2300,"Physikalisch":2200},{"d":"2012-12-02","Kommerziell":1500,"Physikalisch":1300},{"d":"2012-12-03","Kommerziell":0,"Physikalisch":0},{"d":"2012-12-31","Kommerziell":0,"Physikalisch":0},
{"d":"2010-01-06","Kommerziell":2050,"Physikalisch":1200},{"d":"2010-01-13","Kommerziell":1900,"Physikalisch":800},{"d":"2010-01-20","Kommerziell":1950,"Physikalisch":900},{"d":"2010-01-27","Kommerziell":2100,"Physikalisch":300},{"d":"2010-02-03","Kommerziell":1800,"Physikalisch":800},{"d":"2010-02-10","Kommerziell":2000,"Physikalisch":900},{"d":"2010-02-17","Kommerziell":1950,"Physikalisch":1100},{"d":"2010-02-24","Kommerziell":2050,"Physikalisch":500},{"d":"2010-03-03","Kommerziell":2000,"Physikalisch":400},{"d":"2010-03-10","Kommerziell":1950,"Physikalisch":1100},{"d":"2010-03-17","Kommerziell":1850,"Physikalisch":700},{"d":"2010-03-24","Kommerziell":2150,"Physikalisch":1300},{"d":"2010-03-31","Kommerziell":2200,"Physikalisch":1500},{"d":"2010-04-07","Kommerziell":2150,"Physikalisch":900},{"d":"2010-04-14","Kommerziell":2000,"Physikalisch":500},{"d":"2010-04-21","Kommerziell":1700,"Physikalisch":300},{"d":"2010-05-05","Kommerziell":1300,"Physikalisch":100},{"d":"2010-05-12","Kommerziell":1000,"Physikalisch":200},{"d":"2010-05-19","Kommerziell":1050,"Physikalisch":100},{"d":"2010-05-26","Kommerziell":1200,"Physikalisch":500},{"d":"2010-06-02","Kommerziell":1250,"Physikalisch":450},{"d":"2010-06-09","Kommerziell":1200,"Physikalisch":350},{"d":"2010-06-16","Kommerziell":1150,"Physikalisch":250},{"d":"2010-06-23","Kommerziell":1350,"Physikalisch":600},{"d":"2010-06-30","Kommerziell":1550,"Physikalisch":900},{"d":"2010-07-07","Kommerziell":1900,"Physikalisch":900},{"d":"2010-07-14","Kommerziell":1550,"Physikalisch":300},{"d":"2010-07-21","Kommerziell":1050,"Physikalisch":-100},{"d":"2010-07-28","Kommerziell":1300,"Physikalisch":300},{"d":"2010-08-04","Kommerziell":1500,"Physikalisch":700},{"d":"2010-08-11","Kommerziell":1400,"Physikalisch":700},{"d":"2010-08-18","Kommerziell":1050,"Physikalisch":200},{"d":"2010-08-25","Kommerziell":700,"Physikalisch":-300},{"d":"2010-09-01","Kommerziell":1050,"Physikalisch":0},{"d":"2010-09-08","Kommerziell":1600,"Physikalisch":600},{"d":"2010-09-15","Kommerziell":1450,"Physikalisch":700},{"d":"2010-09-22","Kommerziell":1200,"Physikalisch":450},{"d":"2010-09-29","Kommerziell":1300,"Physikalisch":150},{"d":"2010-10-06","Kommerziell":1600,"Physikalisch":350},{"d":"2010-10-13","Kommerziell":1450,"Physikalisch":800},{"d":"2010-10-20","Kommerziell":1550,"Physikalisch":600},{"d":"2010-10-27","Kommerziell":1850,"Physikalisch":600},{"d":"2010-11-03","Kommerziell":1650,"Physikalisch":750},{"d":"2010-11-10","Kommerziell":1750,"Physikalisch":500},{"d":"2010-11-17","Kommerziell":2050,"Physikalisch":650},{"d":"2010-11-24","Kommerziell":2050,"Physikalisch":1100},{"d":"2010-12-01","Kommerziell":1950,"Physikalisch":750},{"d":"2010-12-08","Kommerziell":1650,"Physikalisch":850},{"d":"2010-12-15","Kommerziell":1950,"Physikalisch":1050},{"d":"2010-12-22","Kommerziell":2050,"Physikalisch":850},{"d":"2010-12-29","Kommerziell":2350,"Physikalisch":1100},
{"d":"2011-01-05","Kommerziell":2200,"Physikalisch":1200},{"d":"2011-01-12","Kommerziell":1950,"Physikalisch":1150},{"d":"2011-01-26","Kommerziell":2350,"Physikalisch":1500},{"d":"2011-02-02","Kommerziell":1650,"Physikalisch":300},{"d":"2011-02-09","Kommerziell":1900,"Physikalisch":-300},{"d":"2011-02-16","Kommerziell":2000,"Physikalisch":350},{"d":"2011-02-23","Kommerziell":1950,"Physikalisch":450},{"d":"2011-03-02","Kommerziell":1350,"Physikalisch":150},{"d":"2011-03-09","Kommerziell":1550,"Physikalisch":-250},{"d":"2011-03-16","Kommerziell":2050,"Physikalisch":650},{"d":"2011-03-23","Kommerziell":2050,"Physikalisch":1300},{"d":"2011-03-30","Kommerziell":2100,"Physikalisch":850},{"d":"2011-04-06","Kommerziell":1800,"Physikalisch":1150},{"d":"2011-04-13","Kommerziell":1950,"Physikalisch":950},{"d":"2011-04-20","Kommerziell":1700,"Physikalisch":450},{"d":"2011-04-27","Kommerziell":1800,"Physikalisch":-300},{"d":"2011-05-04","Kommerziell":1750,"Physikalisch":-200},{"d":"2011-05-11","Kommerziell":1950,"Physikalisch":550},{"d":"2011-05-18","Kommerziell":1950,"Physikalisch":850},{"d":"2011-05-25","Kommerziell":1750,"Physikalisch":900},{"d":"2011-06-01","Kommerziell":1650,"Physikalisch":750},{"d":"2011-06-08","Kommerziell":1800,"Physikalisch":850},{"d":"2011-06-15","Kommerziell":1750,"Physikalisch":650},{"d":"2011-06-22","Kommerziell":1650,"Physikalisch":550},{"d":"2011-06-29","Kommerziell":1700,"Physikalisch":500},{"d":"2011-07-06","Kommerziell":2000,"Physikalisch":-400},{"d":"2011-07-13","Kommerziell":700,"Physikalisch":-900},{"d":"2011-07-20","Kommerziell":550,"Physikalisch":-700},{"d":"2011-07-27","Kommerziell":700,"Physikalisch":0},{"d":"2011-08-03","Kommerziell":1300,"Physikalisch":300},{"d":"2011-08-10","Kommerziell":1450,"Physikalisch":500},{"d":"2011-08-17","Kommerziell":1500,"Physikalisch":800},{"d":"2011-08-24","Kommerziell":650,"Physikalisch":-600},{"d":"2011-08-31","Kommerziell":1200,"Physikalisch":-400},{"d":"2011-09-07","Kommerziell":1400,"Physikalisch":-800},{"d":"2011-09-14","Kommerziell":1500,"Physikalisch":-1000},{"d":"2011-09-21","Kommerziell":2300,"Physikalisch":400},{"d":"2011-09-28","Kommerziell":2100,"Physikalisch":400},{"d":"2011-10-05","Kommerziell":1950,"Physikalisch":350},{"d":"2011-10-12","Kommerziell":1800,"Physikalisch":150},{"d":"2011-10-19","Kommerziell":1850,"Physikalisch":-300},{"d":"2011-10-26","Kommerziell":1550,"Physikalisch":-50},{"d":"2011-11-02","Kommerziell":1650,"Physikalisch":300},{"d":"2011-11-09","Kommerziell":1650,"Physikalisch":-200},{"d":"2011-11-16","Kommerziell":1700,"Physikalisch":-200},{"d":"2011-11-23","Kommerziell":1850,"Physikalisch":-650},{"d":"2011-11-30","Kommerziell":1500,"Physikalisch":-1700},{"d":"2011-12-07","Kommerziell":1100,"Physikalisch":-1600},{"d":"2011-12-14","Kommerziell":1300,"Physikalisch":-600},{"d":"2011-12-21","Kommerziell":1850,"Physikalisch":200},{"d":"2011-12-28","Kommerziell":2000,"Physikalisch":350},
{"d":"2012-01-04","Kommerziell":1950,"Physikalisch":650},{"d":"2012-01-11","Kommerziell":1800,"Physikalisch":500},{"d":"2012-01-18","Kommerziell":1550,"Physikalisch":300},{"d":"2012-01-25","Kommerziell":1400,"Physikalisch":-500},{"d":"2012-02-01","Kommerziell":950,"Physikalisch":-100},{"d":"2012-02-08","Kommerziell":650,"Physikalisch":-800},{"d":"2012-02-15","Kommerziell":700,"Physikalisch":-1300},{"d":"2012-02-22","Kommerziell":1150,"Physikalisch":-1800},{"d":"2012-02-29","Kommerziell":1600,"Physikalisch":-500},{"d":"2012-03-07","Kommerziell":1900,"Physikalisch":-300},{"d":"2012-03-14","Kommerziell":1900,"Physikalisch":500},{"d":"2012-03-21","Kommerziell":1950,"Physikalisch":-300},{"d":"2012-03-28","Kommerziell":1800,"Physikalisch":100},{"d":"2012-04-04","Kommerziell":1900,"Physikalisch":-100},{"d":"2012-04-11","Kommerziell":2050,"Physikalisch":300},{"d":"2012-04-18","Kommerziell":1850,"Physikalisch":500},{"d":"2012-04-25","Kommerziell":1850,"Physikalisch":200},{"d":"2012-05-02","Kommerziell":2150,"Physikalisch":700},{"d":"2012-05-09","Kommerziell":2050,"Physikalisch":0},{"d":"2012-05-16","Kommerziell":1400,"Physikalisch":-300},{"d":"2012-05-23","Kommerziell":1350,"Physikalisch":500},{"d":"2012-05-30","Kommerziell":1500,"Physikalisch":-100},{"d":"2012-06-06","Kommerziell":1450,"Physikalisch":200},{"d":"2012-06-13","Kommerziell":1600,"Physikalisch":400},{"d":"2012-06-20","Kommerziell":1600,"Physikalisch":150},{"d":"2012-06-27","Kommerziell":1550,"Physikalisch":400},{"d":"2012-07-04","Kommerziell":2400,"Physikalisch":600},{"d":"2012-07-18","Kommerziell":1600,"Physikalisch":150},{"d":"2012-07-25","Kommerziell":1250,"Physikalisch":-50},{"d":"2012-08-01","Kommerziell":900,"Physikalisch":-350},{"d":"2012-08-08","Kommerziell":900,"Physikalisch":-150},{"d":"2012-08-15","Kommerziell":1050,"Physikalisch":-350},{"d":"2012-08-22","Kommerziell":1300,"Physikalisch":-300},{"d":"2012-08-29","Kommerziell":1400,"Physikalisch":-150},{"d":"2012-09-05","Kommerziell":1750,"Physikalisch":-400},{"d":"2012-09-12","Kommerziell":1500,"Physikalisch":-650},{"d":"2012-09-19","Kommerziell":1250,"Physikalisch":-850},{"d":"2012-09-26","Kommerziell":1350,"Physikalisch":-750},{"d":"2012-10-03","Kommerziell":1550,"Physikalisch":-550},{"d":"2012-10-10","Kommerziell":1400,"Physikalisch":50},{"d":"2012-10-17","Kommerziell":1400,"Physikalisch":350},{"d":"2012-10-24","Kommerziell":1400,"Physikalisch":200},{"d":"2012-10-31","Kommerziell":1400,"Physikalisch":150},{"d":"2012-11-07","Kommerziell":1350,"Physikalisch":250},{"d":"2012-11-14","Kommerziell":1300,"Physikalisch":400},{"d":"2012-11-21","Kommerziell":1150,"Physikalisch":-100},{"d":"2012-11-28","Kommerziell":1800,"Physikalisch":900}],
"kma":[
{"d":"2010-01-01","v":1430},{"d":"2010-01-08","v":1830},{"d":"2010-01-15","v":1730},{"d":"2010-01-22","v":1580},{"d":"2010-01-29","v":1830},{"d":"2010-02-05","v":1430},{"d":"2010-02-12","v":1830},{"d":"2010-02-19","v":1580},{"d":"2010-02-26","v":1730},{"d":"2010-03-05","v":1830},{"d":"2010-03-12","v":1630},{"d":"2010-03-19","v":1430},{"d":"2010-03-26","v":1980},{"d":"2010-04-02","v":1830},{"d":"2010-04-09","v":1930},{"d":"2010-04-16","v":1630},{"d":"2010-04-23","v":1330},{"d":"2010-04-30","v":1190},{"d":"2010-05-07","v":940},{"d":"2010-05-14","v":540},{"d":"2010-05-21","v":840},{"d":"2010-05-28","v":940},{"d":"2010-06-04","v":940},{"d":"2010-06-11","v":840},{"d":"2010-06-18","v":840},{"d":"2010-06-25","v":1140},{"d":"2010-07-02","v":1330},{"d":"2010-07-09","v":1730},{"d":"2010-07-16","v":1040},{"d":"2010-07-23","v":640},{"d":"2010-07-30","v":1140},{"d":"2010-08-06","v":1240},{"d":"2010-08-13","v":1040},{"d":"2010-08-20","v":640},{"d":"2010-08-27","v":250},{"d":"2010-09-03","v":940},{"d":"2010-09-10","v":1430},{"d":"2010-09-17","v":1040},{"d":"2010-09-24","v":840},{"d":"2010-10-01","v":1040},{"d":"2010-10-08","v":1430},{"d":"2010-10-15","v":1040},{"d":"2010-10-22","v":1330},{"d":"2010-10-29","v":1630},{"d":"2010-11-05","v":1240},{"d":"2010-11-12","v":1530},{"d":"2010-11-19","v":1830},{"d":"2010-11-26","v":1730},{"d":"2010-12-03","v":1630},{"d":"2010-12-10","v":1240},{"d":"2010-12-17","v":1830},{"d":"2010-12-24","v":1730},{"d":"2010-12-31","v":2220},{"d":"2011-01-06","v":1830},{"d":"2011-01-13","v":1630},{"d":"2011-01-20","v":2120},{"d":"2011-01-27","v":2030},{"d":"2011-02-03","v":1240},{"d":"2011-02-10","v":1730},{"d":"2011-02-17","v":1730},{"d":"2011-02-24","v":1630},{"d":"2011-03-03","v":940},{"d":"2011-03-10","v":1330},{"d":"2011-03-17","v":1830},{"d":"2011-03-24","v":1730},{"d":"2011-03-31","v":1830},{"d":"2011-04-07","v":1430},{"d":"2011-04-14","v":1730},{"d":"2011-04-21","v":1330},{"d":"2011-04-28","v":1530},{"d":"2011-05-05","v":1430},{"d":"2011-05-12","v":1730},{"d":"2011-05-19","v":1630},{"d":"2011-05-26","v":1430},{"d":"2011-06-02","v":1330},{"d":"2011-06-09","v":1530},{"d":"2011-06-16","v":1430},{"d":"2011-06-23","v":1330},{"d":"2011-06-30","v":1430},{"d":"2011-07-05","v":1880},{"d":"2011-07-12","v":440},{"d":"2011-07-19","v":250},{"d":"2011-07-25","v":150},{"d":"2011-08-01","v":940},{"d":"2011-08-08","v":1140},{"d":"2011-08-17","v":1240},{"d":"2011-08-22","v":250},{"d":"2011-08-29","v":640},{"d":"2011-09-05","v":1140},{"d":"2011-09-12","v":940},{"d":"2011-09-19","v":1830},{"d":"2011-09-25","v":2420},{"d":"2011-09-30","v":1430},{"d":"2011-10-07","v":1730},{"d":"2011-10-14","v":1430},{"d":"2011-10-21","v":1630},{"d":"2011-10-28","v":1140},{"d":"2011-11-04","v":1430},{"d":"2011-11-11","v":1330},{"d":"2011-11-18","v":1430},{"d":"2011-11-26","v":1630},{"d":"2011-12-03","v":740},{"d":"2011-12-10","v":940},{"d":"2011-12-17","v":1240},{"d":"2011-12-24","v":1930},{"d":"2011-12-31","v":1630},{"d":"2012-01-07","v":1730},{"d":"2012-01-14","v":1330},{"d":"2012-01-21","v":1240},{"d":"2012-01-28","v":1040},{"d":"2012-02-04","v":440},{"d":"2012-02-11","v":250},{"d":"2012-02-19","v":640},{"d":"2012-02-26","v":1040},{"d":"2012-03-04","v":1630},{"d":"2012-03-11","v":1530},{"d":"2012-03-18","v":1730},{"d":"2012-03-25","v":1530},{"d":"2012-04-01","v":1430},{"d":"2012-04-08","v":1830},{"d":"2012-04-15","v":1630},{"d":"2012-04-22","v":1430},{"d":"2012-04-29","v":1730},{"d":"2012-05-06","v":2030},{"d":"2012-05-14","v":1330},{"d":"2012-05-21","v":940},{"d":"2012-05-28","v":1240},{"d":"2012-06-04","v":1140},{"d":"2012-06-11","v":1240},{"d":"2012-06-18","v":1430},{"d":"2012-06-25","v":1040},{"d":"2012-07-02","v":1830},{"d":"2012-07-06","v":2320},{"d":"2012-07-13","v":1240},{"d":"2012-07-20","v":1330},{"d":"2012-07-27","v":840},{"d":"2012-08-03","v":540},{"d":"2012-08-10","v":640},{"d":"2012-08-17","v":840},{"d":"2012-08-24","v":1040},{"d":"2012-08-31","v":1140},{"d":"2012-09-07","v":1530},{"d":"2012-09-15","v":1040},{"d":"2012-09-22","v":940},{"d":"2012-09-29","v":1140},{"d":"2012-10-06","v":1330},{"d":"2012-10-13","v":940},{"d":"2012-10-20","v":1240},{"d":"2012-10-27","v":1040},{"d":"2012-11-03","v":1140},{"d":"2012-11-10","v":940},{"d":"2012-11-17","v":1040},{"d":"2012-11-24","v":740},{"d":"2012-12-01","v":1930},{"d":"2012-12-03","v":0},{"d":"2012-12-31","v":0}],
"pma":[
{"d":"2010-01-01","v":1240},{"d":"2010-01-06","v":1830},{"d":"2010-01-11","v":1140},{"d":"2010-01-18","v":1430},{"d":"2010-01-25","v":740},{"d":"2010-02-01","v":1330},{"d":"2010-02-08","v":1040},{"d":"2010-02-15","v":1730},{"d":"2010-02-22","v":1140},{"d":"2010-03-01","v":740},{"d":"2010-03-08","v":1730},{"d":"2010-03-15","v":1040},{"d":"2010-03-22","v":1530},{"d":"2010-03-29","v":2030},{"d":"2010-04-05","v":1430},{"d":"2010-04-12","v":1240},{"d":"2010-04-19","v":740},{"d":"2010-04-26","v":840},{"d":"2010-05-03","v":445},{"d":"2010-05-10","v":840},{"d":"2010-05-17","v":350},{"d":"2010-05-24","v":1040},{"d":"2010-05-31","v":840},{"d":"2010-06-07","v":940},{"d":"2010-06-14","v":540},{"d":"2010-06-21","v":940},{"d":"2010-06-28","v":1040},{"d":"2010-07-05","v":1730},{"d":"2010-07-12","v":940},{"d":"2010-07-19","v":350},{"d":"2010-07-26","v":540},{"d":"2010-08-02","v":1040},{"d":"2010-08-09","v":1330},{"d":"2010-08-16","v":840},{"d":"2010-08-23","v":350},{"d":"2010-08-30","v":-50},{"d":"2010-09-06","v":940},{"d":"2010-09-13","v":1240},{"d":"2010-09-20","v":1040},{"d":"2010-09-27","v":740},{"d":"2010-10-04","v":445},{"d":"2010-10-11","v":1140},{"d":"2010-10-18","v":1330},{"d":"2010-10-25","v":940},{"d":"2010-11-01","v":1240},{"d":"2010-11-08","v":1140},{"d":"2010-11-15","v":740},{"d":"2010-11-22","v":1730},{"d":"2010-11-29","v":1330},{"d":"2010-12-06","v":940},{"d":"2010-12-13","v":1830},{"d":"2010-12-20","v":1040},{"d":"2010-12-27","v":1630},{"d":"2011-01-03","v":1430},{"d":"2011-01-10","v":1930},{"d":"2011-01-17","v":1240},{"d":"2011-01-24","v":2520},{"d":"2011-01-31","v":1430},{"d":"2011-02-07","v":-440},{"d":"2011-02-14","v":540},{"d":"2011-02-21","v":940},{"d":"2011-02-28","v":840},{"d":"2011-03-07","v":350},{"d":"2011-03-14","v":50},{"d":"2011-03-21","v":1930},{"d":"2011-03-28","v":1430},{"d":"2011-04-04","v":1240},{"d":"2011-04-11","v":1830},{"d":"2011-04-18","v":1040},{"d":"2011-04-25","v":640},{"d":"2011-05-02","v":-540},{"d":"2011-05-09","v":1240},{"d":"2011-05-16","v":840},{"d":"2011-05-23","v":1530},{"d":"2011-05-30","v":1240},{"d":"2011-06-06","v":1140},{"d":"2011-06-13","v":1430},{"d":"2011-06-20","v":740},{"d":"2011-06-27","v":1240},{"d":"2011-07-03","v":540},{"d":"2011-07-10","v":-350},{"d":"2011-07-17","v":-440},{"d":"2011-07-25","v":250},{"d":"2011-08-01","v":740},{"d":"2011-08-08","v":840},{"d":"2011-08-18","v":1330},{"d":"2011-08-22","v":-350},{"d":"2011-08-29","v":250},{"d":"2011-09-05","v":50},{"d":"2011-09-12","v":-740},{"d":"2011-09-19","v":840},{"d":"2011-09-25","v":1330},{"d":"2011-09-30","v":740},{"d":"2011-10-07","v":940},{"d":"2011-10-14","v":640},{"d":"2011-10-21","v":250},{"d":"2011-10-28","v":640},{"d":"2011-11-04","v":940},{"d":"2011-11-11","v":150},{"d":"2011-11-18","v":445},{"d":"2011-11-26","v":-445},{"d":"2011-12-01","v":-1235},{"d":"2011-12-06","v":-1330},{"d":"2011-12-13","v":-250},{"d":"2011-12-20","v":740},{"d":"2011-12-27","v":840},{"d":"2012-01-03","v":1240},{"d":"2012-01-11","v":1040},{"d":"2012-01-18","v":840},{"d":"2012-01-25","v":50},{"d":"2012-02-01","v":445},{"d":"2012-02-08","v":-250},{"d":"2012-02-15","v":-740},{"d":"2012-02-22","v":-1330},{"d":"2012-02-29","v":50},{"d":"2012-03-07","v":250},{"d":"2012-03-14","v":1040},{"d":"2012-03-21","v":250},{"d":"2012-03-28","v":640},{"d":"2012-04-05","v":445},{"d":"2012-04-12","v":840},{"d":"2012-04-19","v":1040},{"d":"2012-04-26","v":740},{"d":"2012-05-03","v":1240},{"d":"2012-05-10","v":540},{"d":"2012-05-17","v":250},{"d":"2012-05-24","v":1040},{"d":"2012-05-31","v":445},{"d":"2012-06-07","v":740},{"d":"2012-06-14","v":940},{"d":"2012-06-22","v":640},{"d":"2012-06-29","v":940},{"d":"2012-07-06","v":1330},{"d":"2012-07-13","v":940},{"d":"2012-07-20","v":640},{"d":"2012-07-27","v":445},{"d":"2012-08-03","v":150},{"d":"2012-08-10","v":445},{"d":"2012-08-17","v":150},{"d":"2012-08-24","v":250},{"d":"2012-08-31","v":445},{"d":"2012-09-07","v":50},{"d":"2012-09-15","v":-150},{"d":"2012-09-22","v":-350},{"d":"2012-09-29","v":-150},{"d":"2012-10-06","v":50},{"d":"2012-10-13","v":940},{"d":"2012-10-20","v":840},{"d":"2012-10-27","v":640},{"d":"2012-11-03","v":740},{"d":"2012-11-10","v":840},{"d":"2012-11-17","v":1040},{"d":"2012-11-24","v":50},{"d":"2012-12-01","v":1930},{"d":"2012-12-03","v":0},{"d":"2012-12-31","v":0}]
},
"resolve":{"axis":{"x":"independent"}},
"layer":[
{"data":{"values":[{}]},"mark":{"type":"rule","color":"black","strokeWidth":3.5},
 "encoding":{"y":{"datum":0,"type":"quantitative","title":"MW"}}},
{"data":{"name":"ex"},"transform":[{"fold":["Kommerziell"],"as":["s","v"]}],
 "mark":{"type":"line","strokeWidth":2.2},
 "encoding":{
  "x":{"field":"d","type":"temporal","title":null,
   "scale":{"type":"utc","domain":[{"year":2010,"month":1,"date":1,"utc":true},{"year":2012,"month":12,"date":31,"utc":true}]},
   "axis":{"orient":"top","values":[1262304000000,1264932000000,1267560000000,1270188000000,1272816000000,1275444000000,1278072000000,1280700000000,1283328000000,1285956000000,1288584000000,1291212000000,1293840000000,1296468000000,1299096000000,1301724000000,1304352000000,1306980000000,1309608000000,1312236000000,1314864000000,1317492000000,1320120000000,1322748000000,1325376000000,1328004000000,1330632000000,1333260000000,1335888000000,1338516000000,1341144000000,1343772000000,1346400000000,1349028000000,1351656000000,1354284000000,1356912000000],
    "labels":false,"ticks":false,"domain":false,"grid":true,"gridColor":"#8c8c8c","gridDash":[2,2],"gridWidth":1,"title":null}},
  "y":{"field":"v","type":"quantitative","title":"MW",
   "scale":{"domain":[-5000,20000],"nice":false,"zero":false},
   "axis":{"values":[-5000,-2500,0,2500,5000,7500,10000,12500,15000,17500,20000],
    "labelExpr":"replace(replace(format(datum.value, ','), ',', '.'), '\u2212', '-')",
    "labelFontSize":31,"labelFontWeight":"bold","labelColor":"black","labelPadding":30,"ticks":false,"domain":false,
    "grid":true,"gridColor":"#8c8c8c","gridDash":[2,2],"gridWidth":1,
    "titleFontSize":31,"titleFontWeight":"bold","titleColor":"black","titleAngle":-90,"titleX":-154,"titleY":544,"titleAlign":"center","titleBaseline":"middle"}},
  "color":{"field":"s","type":"nominal",
   "scale":{"domain":["Kernenergie","Kommerziell","Physikalisch"],"range":["#77933c","#d99694","#93cddd"]},
   "legend":{"orient":"none","legendX":1441,"legendY":115,"title":null,"symbolType":"stroke","symbolSize":4500,"symbolStrokeWidth":2,"rowPadding":254,"labelFontSize":31,"labelFontWeight":"bold","labelColor":"black","labelOffset":10,"padding":0,"labelLimit":400,
    "encode":{"symbols":{"update":{"strokeWidth":{"signal":"datum.value === 'Kernenergie' ? 5 : 2"}}}}}}}},
{"data":{"name":"ex"},"transform":[{"fold":["Physikalisch"],"as":["s","v"]}],
 "mark":{"type":"line","strokeWidth":2.2},
 "encoding":{
  "x":{"field":"d","type":"temporal","title":null,
   "axis":{"orient":"bottom","values":[1262304000000,1270188000000,1278072000000,1285956000000,1293840000000,1301724000000,1309608000000,1317492000000,1325376000000,1333260000000,1341144000000,1349028000000,1356912000000],
    "labelExpr":"utcFormat(datum.value, '%d.%m.%Y')","labelAngle":90,"labelAlign":"left","labelBaseline":"middle",
    "labelFontSize":31,"labelFontWeight":"bold","labelColor":"black","labelPadding":19,"ticks":false,"domain":false,"grid":false,
    "labelOverlap":false,"labelFlush":false,"labelBound":false,"title":null}},
  "y":{"field":"v","type":"quantitative","title":"MW"},
  "color":{"field":"s","type":"nominal"}}},
{"data":{"name":"kma"},"mark":{"type":"line","color":"#632523","strokeWidth":4.5},
 "encoding":{"x":{"field":"d","type":"temporal","axis":null},"y":{"field":"v","type":"quantitative","title":"MW"}}},
{"data":{"name":"pma"},"mark":{"type":"line","color":"#215968","strokeWidth":4.5},
 "encoding":{"x":{"field":"d","type":"temporal","axis":null},"y":{"field":"v","type":"quantitative","title":"MW"}}},
{"data":{"values":[{}]},"mark":{"type":"rule","color":"#a6a6a6","strokeWidth":4},
 "encoding":{"x":{"datum":{"year":2011,"month":1,"date":1,"utc":true},"type":"temporal","axis":null}}},
{"data":{"values":[{}]},"mark":{"type":"rule","color":"#a6a6a6","strokeWidth":4},
 "encoding":{"x":{"datum":{"year":2012,"month":1,"date":1,"utc":true},"type":"temporal","axis":null}}},
{"data":{"values":[{}]},"mark":{"type":"rule","color":"#4f81bd","strokeWidth":4},
 "encoding":{"x":{"datum":{"year":2011,"month":3,"date":14,"utc":true},"type":"temporal","axis":null}}},
{"data":{"values":[{}]},"mark":{"type":"rule","color":"#4f81bd","strokeWidth":4},
 "encoding":{"x":{"datum":{"year":2011,"month":3,"date":14,"utc":true},"type":"temporal","axis":null},
  "x2":{"datum":{"year":2011,"month":4,"date":23,"utc":true}},
  "y":{"datum":19145,"type":"quantitative","title":"MW"}}},
{"data":{"values":[{}]},"mark":{"type":"point","shape":"triangle-right","filled":true,"size":900,"color":"#4f81bd","opacity":1},
 "encoding":{"x":{"datum":{"year":2011,"month":4,"date":23,"utc":true},"type":"temporal","axis":null},
  "y":{"datum":19145,"type":"quantitative","title":"MW"}}},
{"data":{"values":[{}]},"mark":{"type":"text","text":["Entscheidung Moratorium","(14.3.2011)"],"align":"left","baseline":"alphabetic","fontSize":37,"fontWeight":"bold","color":"#4f81bd","lineHeight":43},
 "encoding":{"x":{"datum":{"year":2011,"month":5,"date":12,"utc":true},"type":"temporal","axis":null},
  "y":{"datum":18732,"type":"quantitative","title":"MW"}}},
{"data":{"values":[{}]},"mark":{"type":"text","text":"Import","align":"right","baseline":"alphabetic","fontSize":36,"color":"#7f7f7f"},
 "encoding":{"x":{"datum":{"year":2012,"month":11,"date":24,"utc":true},"type":"temporal","axis":null},
  "y":{"datum":3461,"type":"quantitative","title":"MW"}}},
{"data":{"values":[{}]},"mark":{"type":"text","text":"Export","align":"right","baseline":"alphabetic","fontSize":36,"color":"#7f7f7f"},
 "encoding":{"x":{"datum":{"year":2012,"month":11,"date":24,"utc":true},"type":"temporal","axis":null},
  "y":{"datum":-2642,"type":"quantitative","title":"MW"}}},
{"data":{"name":"kern"},"transform":[{"fold":["Kernenergie"],"as":["s","v"]}],
 "mark":{"type":"line","strokeWidth":7,"strokeJoin":"round","strokeCap":"round"},
 "encoding":{"x":{"field":"d","type":"temporal","axis":null},"y":{"field":"v","type":"quantitative","title":"MW"},
  "color":{"field":"s","type":"nominal"}}}
]
}
